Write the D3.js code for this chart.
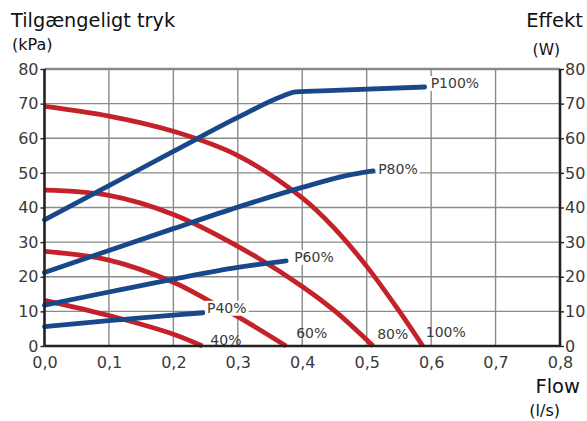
<!DOCTYPE html>
<html><head><meta charset="utf-8">
<script src="https://cdn.jsdelivr.net/npm/d3@7"></script>
<style>body{margin:0;background:#fff}svg{display:block}</style>
</head><body><svg id="c" width="587" height="421"></svg>
<script>
const xTicks = [0,0.1,0.2,0.3,0.4,0.5,0.6,0.7,0.8];
const xTickLabels = ["0,0","0,1","0,2","0,3","0,4","0,5","0,6","0,7","0,8"];
const yTicks = [0,10,20,30,40,50,60,70,80];
const pressure100 = [[0,69.2],[0.1,66.4],[0.2,62],[0.3,55],[0.4,42.8],[0.45,34],[0.5,23],[0.55,10.2],[0.587,0]];
const pressure80 = [[0,45],[0.1,43.5],[0.2,38],[0.3,28.8],[0.4,17.2],[0.45,10.2],[0.51,0]];
const pressure60 = [[0,27.3],[0.1,24.8],[0.2,18.4],[0.25,13.6],[0.3,8.5],[0.375,0]];
const pressure40 = [[0,13.2],[0.1,8.8],[0.2,3.4],[0.245,0]];
const power100 = [[0,36.4],[0.1,46.3],[0.2,56.2],[0.3,66],[0.37,72.2],[0.39,73.4],[0.45,73.8],[0.59,74.8]];
const power80 = [[0,21.2],[0.1,27.6],[0.2,33.9],[0.3,40.1],[0.4,45.8],[0.47,49.3],[0.51,50.6]];
const power60 = [[0,11.8],[0.1,15.6],[0.2,19.3],[0.3,22.7],[0.375,24.6]];
const power40 = [[0,5.6],[0.1,7.3],[0.2,8.9],[0.246,9.6]];
const pressureLabels = ["40%","60%","80%","100%"];
const powerLabels = ["P40%","P60%","P80%","P100%"];

const svg = d3.select("#c");
const x = d3.scaleLinear().domain([0,0.8]).range([44.5,560]);
const y = d3.scaleLinear().domain([0,80]).range([346,69]);
const font = "'DejaVu Sans', sans-serif";

// grid
const g = svg.append("g");
g.selectAll(".vx").data(xTicks.slice(1,-1)).join("line")
 .attr("x1",d=>x(d)).attr("x2",d=>x(d)).attr("y1",y(80)).attr("y2",y(0))
 .attr("stroke","#8a8a8a").attr("stroke-width",1.4);
g.selectAll(".hy").data(yTicks.slice(1)).join("line")
 .attr("x1",x(0)).attr("x2",x(0.8)).attr("y1",d=>y(d)).attr("y2",d=>y(d))
 .attr("stroke","#8a8a8a").attr("stroke-width",d=>d===80?2.5:1.4);

const lineP = d3.line().x(d=>x(d[0])).y(d=>y(d[1])).curve(d3.curveCatmullRom.alpha(0.5));
const lineW = d3.line().x(d=>x(d[0])).y(d=>y(d[1])).curve(d3.curveMonotoneX);
const red = "#c52129", blue = "#19488a";
const curves = g.append("g");
[pressure100,pressure80,pressure60,pressure40].forEach(p=>{
  curves.append("path").attr("d",lineP(p)).attr("fill","none").attr("stroke",red).attr("stroke-width",4.8).attr("stroke-linecap","butt");
});
[power100,power80,power60,power40].forEach(p=>{
  curves.append("path").attr("d",lineW(p)).attr("fill","none").attr("stroke",blue).attr("stroke-width",4.8).attr("stroke-linecap","round");
});

// axes
const axL = d3.axisLeft(y).tickValues(yTicks).tickSize(4).tickFormat(d3.format("d"));
const axR = d3.axisRight(y).tickValues(yTicks).tickSize(4).tickFormat(d3.format("d"));
const axB = d3.axisBottom(x).tickValues(xTicks).tickSize(0).tickFormat((d,i)=>xTickLabels[i]);
function style(sel){
  sel.select(".domain").attr("stroke","#222").attr("stroke-width",2.6);
  sel.selectAll(".tick line").attr("stroke","#222").attr("stroke-width",1.4);
  sel.selectAll(".tick text").attr("fill","#3a3a3a").style("font-family",font).style("font-size","16px");
}
svg.append("g").attr("transform",`translate(${x(0)},0)`).call(axL).call(style).call(s=>s.select(".domain").attr("d",`M0,${y(80)}V${y(0)}`)).selectAll(".tick text").attr("x",-6);
svg.append("g").attr("transform",`translate(${x(0.8)},0)`).call(axR).call(style).call(s=>s.select(".domain").attr("d",`M0,${y(80)}V${y(0)}`)).selectAll(".tick text").attr("x",5);
svg.append("g").attr("transform",`translate(0,${y(0)})`).call(axB).call(style).call(s=>s.select(".domain").attr("d",`M${x(0)},0H${x(0.8)}`)).selectAll(".tick text").attr("y",22).attr("dy",0);

// labels
function lab(txt,px,py,bg){
  const t = svg.append("text").attr("x",px).attr("y",py).text(txt)
    .attr("fill","#3a3a3a").style("font-family",font).style("font-size","14px");
  if(bg){
    const b = t.node().getBBox();
    svg.insert("rect",()=>t.node()).attr("x",b.x-2).attr("y",b.y+1).attr("width",b.width+4).attr("height",b.height-1).attr("fill","#fff");
  }
  return t;
}
const ends = [pressure40,pressure60,pressure80,pressure100].map(p=>p[p.length-1][0]);
const pxOff = [[8,-1],[10,-8],[4,-7],[3,-9]];
pressureLabels.forEach((t,i)=>lab(t,x(ends[i])+pxOff[i][0],y(0)+pxOff[i][1],false));
const pe = [power40,power60,power80,power100].map(p=>p[p.length-1]);
const poff = [[4,0],[8,1],[5,3],[6,1]];
powerLabels.forEach((t,i)=>lab(t,x(pe[i][0])+poff[i][0],y(pe[i][1])+poff[i][1],true));

// titles
const tf = s=>s.style("font-family",font).attr("fill","#111");
tf(svg.append("text").attr("x",11).attr("y",27).text("Tilgængeligt tryk").style("font-size","19.3px"));
tf(svg.append("text").attr("x",12).attr("y",50).text("(kPa)").style("font-size","16px").attr("fill","#3a3a3a"));
tf(svg.append("text").attr("x",583).attr("y",27).attr("text-anchor","end").text("Effekt").style("font-size","19.5px"));
tf(svg.append("text").attr("x",560).attr("y",55).attr("text-anchor","end").text("(W)").style("font-size","15.5px").attr("fill","#3a3a3a"));
tf(svg.append("text").attr("x",580).attr("y",393).attr("text-anchor","end").text("Flow").style("font-size","19.5px"));
tf(svg.append("text").attr("x",560).attr("y",416).attr("text-anchor","end").text("(l/s)").style("font-size","16px").attr("fill","#3a3a3a"));
</script></body></html>
